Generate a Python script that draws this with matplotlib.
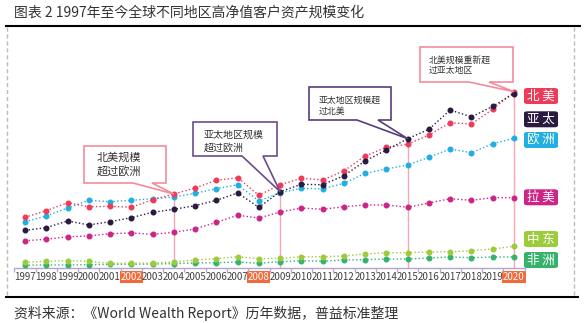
import matplotlib
matplotlib.use("Agg")
import matplotlib.pyplot as plt
from matplotlib.patches import Polygon, FancyBboxPatch
from matplotlib.lines import Line2D

plt.rcParams['font.family'] = ['Noto Sans CJK SC', 'DejaVu Sans']

years = ['1997', '1998', '1999', '2000', '2001', '2002', '2003', '2004', '2005', '2006', '2007', '2008',
         '2009', '2010', '2011', '2012', '2013', '2014', '2015', '2016', '2017', '2018', '2019', '2020']
highlight_years = ['2002', '2008', '2020']

north_america = [6.34, 7.16, 8.16, 7.66, 7.71, 7.59, 8.54, 9.25, 10.0, 10.96, 11.29, 9.09,
                 10.41, 11.21, 11.0, 12.13, 14.0, 15.09, 15.46, 16.63, 18.16, 18.0, 19.84, 22.04]
asia_pacific = [4.71, 5.04, 5.88, 5.38, 5.79, 6.29, 6.96, 7.34, 7.79, 8.46, 9.38, 7.59,
                9.54, 10.46, 10.41, 11.54, 13.38, 14.75, 16.16, 17.34, 19.75, 18.88, 20.21, 21.79]
europe = [5.79, 6.5, 7.5, 8.46, 8.29, 8.46, 8.66, 8.88, 9.34, 9.91, 10.41, 8.38,
          9.41, 9.96, 9.88, 10.59, 11.84, 12.38, 12.88, 13.84, 14.88, 14.41, 15.54, 16.21]
latin_america = [3.41, 3.59, 3.91, 4.0, 4.29, 4.38, 4.21, 4.46, 4.88, 5.71, 6.59, 6.25,
                 7.0, 7.5, 7.34, 7.66, 7.88, 7.88, 7.59, 8.13, 8.66, 8.46, 8.79, 8.79]
middle_east = [0.71, 0.84, 0.91, 0.84, 0.59, 0.59, 0.63, 0.75, 1.0, 1.16, 1.41, 1.16,
               1.21, 1.41, 1.41, 1.5, 1.75, 1.91, 1.91, 2.0, 2.04, 2.16, 2.38, 2.71]
africa = [0.34, 0.38, 0.38, 0.41, 0.46, 0.46, 0.5, 0.54, 0.63, 0.66, 0.75, 0.59,
          0.79, 0.91, 0.84, 1.0, 1.04, 1.13, 1.13, 1.25, 1.38, 1.29, 1.38, 1.38]

region_names = ['北美', '亚太', '欧洲', '拉美', '中东', '非洲']
callout_years = ['2004', '2009', '2015', '2020']
callout_series = ['北美', '亚太', '亚太', '北美']
callout_texts = ['北美规模\n超过欧洲', '亚太地区规模\n超过欧洲', '亚太地区规模超\n过北美', '北美规模重新超\n过亚太地区']

series = {'北美': north_america, '亚太': asia_pacific, '欧洲': europe,
          '拉美': latin_america, '中东': middle_east, '非洲': africa}
colors = {'北美': '#EE3B5A', '亚太': '#2B1A40', '欧洲': '#22AEE0',
          '拉美': '#CC2587', '中东': '#9CCB3B', '非洲': '#36B26C'}

W, H = 585, 323
fig = plt.figure(figsize=(W / 100, H / 100), dpi=100)


def fx(px):
    return px / W


def fy(py):
    return 1 - py / H


ax_left, ax_right, ax_top, ax_bottom = 14.4, 524.6, 30, 268
ax = fig.add_axes([fx(ax_left), fy(ax_bottom), fx(ax_right - ax_left), (ax_bottom - ax_top) / H])
ax.set_xlim(-0.5, len(years) - 0.5)
ax.set_ylim(0, (ax_bottom - ax_top) / 8)
for s in ['top', 'right', 'left']:
    ax.spines[s].set_visible(False)
ax.spines['bottom'].set_color('#B3A6CC')
ax.spines['bottom'].set_linewidth(1.0)
ax.set_yticks([])

x = list(range(len(years)))
ax.set_xticks(x)
ax.set_xticklabels(years, fontsize=7.0, color='#404040')
ax.tick_params(axis='x', which='major', length=0, pad=2.8)
ax.set_xticks([i - 0.5 for i in range(len(years) + 1)], minor=True)
ax.tick_params(axis='x', which='minor', length=3, color='#B3A6CC', width=0.9)
for lab in ax.get_xticklabels():
    if lab.get_text() in highlight_years:
        lab.set_color('white')
        lab.set_bbox(dict(facecolor='#F26A3A', edgecolor='none', pad=0.5))

# vertical marker lines
for yr in callout_years:
    i = years.index(yr)
    top = max(v[i] for v in series.values())
    ax.vlines(i, 0, top, color='#F7A6B6', lw=1.0, zorder=1)

for name in ['非洲', '中东', '拉美', '欧洲', '北美', '亚太']:
    ax.plot(x, series[name], linestyle=':', lw=1.0, color=colors[name],
            marker='o', ms=3.3, mec=colors[name], mfc=colors[name], zorder=3)

# callouts
boxes = [(84, 166, 146, 183, 133, 152, '#F28C9C', 8.0, 97, 157.5, 14.0),
         (193, 277, 122, 156, 242, 263, '#6B4C8C', 7.2, 204, 135, 12.5),
         (309, 391, 87, 120, 357, 378, '#5A3C7A', 6.4, 319, 100.5, 10.5),
         (420, 513, 47, 82, 469, 489, '#F28C9C', 6.4, 429, 60, 10.5)]
fig.canvas.draw()
inv = fig.transFigure.inverted()
for (x0, x1, y0, y1, wa, wb, ec, fs, tx, ty, lsp), yr, sname, txt in zip(
        boxes, callout_years, callout_series, callout_texts):
    i = years.index(yr)
    tip = inv.transform(ax.transData.transform((i, series[sname][i])))
    verts = [(fx(x0), fy(y0)), (fx(x1), fy(y0)), (fx(x1), fy(y1)), (fx(wb), fy(y1)),
             tuple(tip), (fx(wa), fy(y1)), (fx(x0), fy(y1))]
    fig.patches.append(Polygon(verts, closed=True, facecolor='white', edgecolor=ec,
                               lw=1.2, transform=fig.transFigure, zorder=5))
    for k, line in enumerate(txt.split('\n')):
        fig.text(fx(tx), fy(ty + k * lsp), line, fontsize=fs, color='#333333',
                 ha='left', va='center', zorder=6)

# region label boxes
label_y = [96, 119.3, 140, 197.3, 239, 260]
for name, cy in zip(region_names, label_y):
    bw, bh = 34, 16
    fig.patches.append(FancyBboxPatch((fx(524), fy(cy + bh / 2)), fx(bw), bh / H,
                                      boxstyle='round,pad=0,rounding_size=0.006',
                                      facecolor=colors[name], edgecolor='none',
                                      transform=fig.transFigure, zorder=5))
    fig.text(fx(541), fy(cy), name[0] + ' ' + name[1], fontsize=9, color='white',
             ha='center', va='center', zorder=6)

# frame lines
fig.add_artist(Line2D([fx(6), fx(580)], [fy(26), fy(26)], color='black', lw=1.5, transform=fig.transFigure))
fig.add_artist(Line2D([fx(6), fx(578)], [fy(297), fy(297)], color='black', lw=1.5, transform=fig.transFigure))
for xx in [6.5, 574]:
    fig.add_artist(Line2D([fx(xx), fx(xx)], [fy(27), fy(296)], color='#BBBBBB', lw=1.0,
                          linestyle=(0, (3, 2)), transform=fig.transFigure))

fig.text(fx(14), fy(12), '图表 2 1997年至今全球不同地区高净值客户资产规模变化', fontsize=10,
         color='#333333', ha='left', va='center')
fig.text(fx(14), fy(313), '资料来源：《World Wealth Report》历年数据，普益标准整理', fontsize=10,
         color='#333333', ha='left', va='center')

fig.savefig('out.png', dpi=100)
